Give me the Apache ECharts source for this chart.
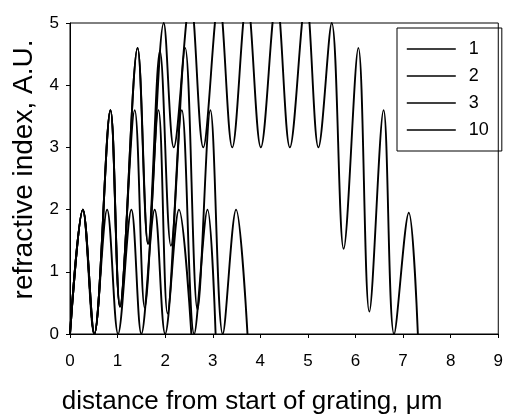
<!DOCTYPE html>
<html lang="en">
<head>
<meta charset="UTF-8">
<title>refractive index</title>
<script src="https://cdn.jsdelivr.net/npm/echarts@6/dist/echarts.min.js"></script>
<style>
  html, body { margin: 0; padding: 0; background: #fff; }
  #paint { width: 506px; height: 420px; }
</style>
</head>
<body>
<div id="paint"></div>
<script type="text/javascript">
  var names = ['1', '2', '3', '10'];
  var xTicks = [0, 1, 2, 3, 4, 5, 6, 7, 8, 9];
  var yTicks = [0, 1, 2, 3, 4, 5];

  // turning points of each curve (peaks and troughs)
  var x1 = [0, 0.27, 0.51, 0.78, 1.01, 1.29, 1.5, 1.78, 2.0, 2.29, 2.55];
  var n1 = [0, 2, 0, 2, 0, 2, 0, 2, 0, 2, 0];

  var x2 = [0, 0.27, 0.51, 0.85, 1.05, 1.36, 1.57, 1.86, 2.05, 2.35, 2.61, 2.89, 3.06];
  var n2 = [0, 2, 0, 3.6, 0.44, 3.6, 0.42, 3.6, 0.33, 3.6, 0, 2, 0];

  var x3 = [0, 0.27, 0.51, 0.85, 1.05, 1.42, 1.64, 1.89, 2.12, 2.42, 2.68, 2.95, 3.21, 3.49, 3.73];
  var n3 = [0, 2, 0, 3.6, 0.44, 4.6, 1.45, 4.55, 1.42, 4.6, 0.39, 3.6, 0, 2, 0];

  // the tops above 5 are cut off by the frame
  var x10 = [0, 0.27, 0.51, 0.85, 1.05, 1.42, 1.64, 1.97, 2.18, 2.53, 2.8, 3.13, 3.41, 3.72,
             4.01, 4.34, 4.62, 4.96, 5.22, 5.5, 5.75, 6.06, 6.29, 6.59, 6.81, 7.12, 7.31];
  var n10 = [0, 2, 0, 3.6, 0.44, 4.6, 1.45, 5.0, 3.0, 5.4, 3.0, 5.4, 3.0, 5.4,
             3.0, 5.4, 3.0, 5.4, 3.0, 5.0, 1.37, 4.6, 0.36, 3.6, 0, 1.95, 0];

  var curvesX = [x1, x2, x3, x10];
  var curvesN = [n1, n2, n3, n10];

  var font = 'Liberation Sans';
  var myChart = echarts.init(document.getElementById('paint'));

  var series = [];
  for (var i = 0; i < names.length; i++) {
    var pts = [];
    for (var j = 0; j < curvesX[i].length; j++) {
      pts.push([curvesX[i][j], curvesN[i][j]]);
    }
    series.push({
      name: names[i],
      type: 'line',
      data: pts,
      symbol: 'none',
      smooth: 0.35,
      clip: true,
      lineStyle: { color: '#000', width: 1.9 },
      itemStyle: { color: '#000' }
    });
  }

  var option = {
    animation: false,
    backgroundColor: '#fff',
    textStyle: { fontFamily: font, color: '#000' },
    grid: {
      left: 70, right: 5, top: 23, bottom: 84,
      show: true, borderColor: '#000', borderWidth: 1
    },
    legend: {
      orient: 'vertical',
      left: 397, top: 28,
      padding: [12, 13, 12, 9],
      itemWidth: 49, itemHeight: 18, itemGap: 9,
      borderColor: '#000', borderWidth: 1,
      itemStyle: { opacity: 0 },
      lineStyle: { width: 1.6 },
      textStyle: { fontFamily: font, fontSize: 18, color: '#000', padding: [0, 0, 0, 8] },
      data: names
    },
    xAxis: {
      type: 'value',
      min: xTicks[0], max: xTicks[xTicks.length - 1], interval: 1,
      name: 'distance from start of grating, \u03bcm',
      nameLocation: 'middle', nameGap: 55,
      nameTextStyle: { fontFamily: font, fontSize: 26, color: '#000', padding: [0, 64, 0, 0] },
      axisLine: { lineStyle: { color: '#000', width: 1 } },
      axisTick: { length: 4, lineStyle: { color: '#000' } },
      axisLabel: { fontFamily: font, fontSize: 17, color: '#000', margin: 19 },
      splitLine: { show: false }
    },
    yAxis: {
      type: 'value',
      min: yTicks[0], max: yTicks[yTicks.length - 1], interval: 1,
      name: 'refractive index, A.U.',
      nameLocation: 'middle', nameGap: 31,
      nameTextStyle: { fontFamily: font, fontSize: 28, color: '#000', padding: [0, 0, 0, 18] },
      axisLine: { lineStyle: { color: '#000', width: 1 } },
      axisTick: { length: 4, lineStyle: { color: '#000' } },
      axisLabel: { fontFamily: font, fontSize: 17, color: '#000', margin: 11 },
      splitLine: { show: false }
    },
    series: series
  };
  myChart.setOption(option);
</script>
</body>
</html>
